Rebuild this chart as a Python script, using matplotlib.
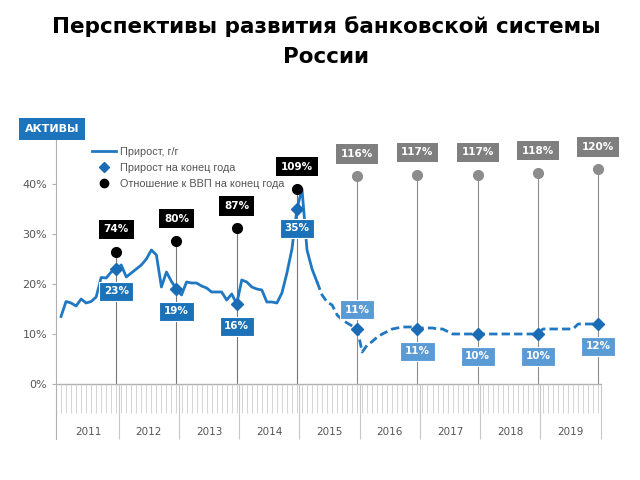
import matplotlib.pyplot as plt
from matplotlib.lines import Line2D

plt.rcParams['font.family'] = ['DejaVu Sans']

# Прирост активов, г/г (%), месяц 0 = январь 2011
fact_months = list(range(0, 52))
fact_values = [13.5, 16.5, 16.2, 15.6, 17.0, 16.2, 16.5, 17.4, 21.3, 21.2, 22.4, 23.0,
               23.8, 21.4, 22.2, 23.0, 23.8, 25.0, 26.8, 25.8, 19.4, 22.4, 20.5, 19.0,
               17.8, 20.4, 20.2, 20.2, 19.6, 19.2, 18.4, 18.4, 18.4, 16.8, 18.0, 16.0,
               20.8, 20.4, 19.4, 19.0, 18.8, 16.4, 16.4, 16.2, 18.2, 22.2, 27.0, 35.0,
               39.0, 26.8, 23.0, 20.4]

# прогноз (пунктир)
fc_months = list(range(51, 108))
fc_values = [20.4, 17.8, 16.4, 15.8, 13.8, 12.8, 12.2, 11.6, 11.0,
             6.4, 7.8, 8.5, 9.4, 10.0, 10.5, 11.0, 11.2, 11.4, 11.4, 11.4, 11.0,
             11.2, 11.2, 11.2, 11.0, 11.0, 10.5,
             10.0, 10.0, 10.0, 10.0, 10.0, 10.0, 10.0, 10.0, 10.0, 10.0, 10.0, 10.0,
             10.0, 10.0, 10.0, 10.0, 10.0, 10.0,
             11.0, 11.0, 11.0, 11.0, 11.0, 11.0, 11.0,
             12.0, 12.0, 12.0, 12.0, 12.0]

years = ['2011', '2012', '2013', '2014', '2015', '2016', '2017', '2018', '2019']
year_end = [11, 23, 35, 47, 59, 71, 83, 95, 107]
growth_ye = [23, 19, 16, 35, 11, 11, 10, 10, 12]
gdp_ratio = [74, 80, 87, 109, 116, 117, 117, 118, 120]

blue = '#1f78c1'
dark_box = '#1b72b8'
light_box = '#5b9bd5'
grey = '#8c8c8c'

fig = plt.figure(figsize=(6.4, 4.8), dpi=100)
ax = fig.add_axes([0.0875, 0.075, 0.8597, 0.6667])
ax.set_xlim(-1, 108.6)
ax.set_ylim(-12, 52)

# вторая шкала для отношения к ВВП
ax2 = ax.twinx()
ax2.set_ylim(-12 / 0.358, 52 / 0.358)
ax2.axis('off')

# оси
for s in ['top', 'right', 'bottom']:
    ax.spines[s].set_visible(False)
ax.spines['left'].set_bounds(-11, 49)
ax.spines['left'].set_color('#b0b0b0')
ax.set_yticks([0, 10, 20, 30, 40])
ax.set_yticklabels(['0%', '10%', '20%', '30%', '40%'], fontsize=8, color='#555555')
ax.tick_params(axis='y', length=3, color='#b0b0b0')
ax.set_xticks([])

ax.plot([-1, 107.5], [0, 0], color='#b0b0b0', lw=1)
ax.vlines(range(0, 108), -5.8, 0, color='#cccccc', lw=0.6)
ax.vlines([m + 0.5 for m in year_end], -11, 0, color='#c8c8c8', lw=0.8)
for i, y in enumerate(years):
    ax.text(year_end[i] - 5.5, -9.6, y, ha='center', va='center', fontsize=7.5, color='#555555')

# вертикальные линии на конец года
for i, m in enumerate(year_end):
    ax.plot([m, m], [0, gdp_ratio[i] * 0.358], color=grey if i > 3 else '#777777', lw=0.8, zorder=1)

# линии
ax.plot(fact_months, fact_values, color=blue, lw=2, zorder=3)
ax.plot(fc_months, fc_values, color=blue, lw=2, ls=(0, (3, 1.5)), zorder=3)
ax.plot(year_end, growth_ye, ls='none', marker='D', ms=6, color='#1a6db5', zorder=4)

# отношение к ВВП
ax2.plot(year_end[:4], gdp_ratio[:4], ls='none', marker='o', ms=7, color='black', zorder=4)
ax2.plot(year_end[4:], gdp_ratio[4:], ls='none', marker='o', ms=7, color=grey, zorder=4)
for i, m in enumerate(year_end):
    fc = 'black' if i < 4 else '#7f7f7f'
    ax2.annotate(f'{gdp_ratio[i]}%', (m, gdp_ratio[i]), xytext=(0, 16),
                 textcoords='offset points', ha='center', va='center',
                 fontsize=7.5, fontweight='bold', color='white',
                 bbox=dict(boxstyle='square,pad=0.45', fc=fc, ec='none'))

# подписи прироста
for i, m in enumerate(year_end):
    fc = dark_box if i < 4 else light_box
    dy = 14 if i == 4 else -16
    if i == 3:
        dy = -14
    ax.annotate(f'{growth_ye[i]}%', (m, growth_ye[i]), xytext=(0, dy),
                textcoords='offset points', ha='center', va='center',
                fontsize=7.5, fontweight='bold', color='white', zorder=5,
                bbox=dict(boxstyle='square,pad=0.45', fc=fc, ec='white', lw=0.8))

# легенда
handles = [Line2D([], [], color=blue, lw=2),
           Line2D([], [], ls='none', marker='D', ms=5, color='#1a6db5'),
           Line2D([], [], ls='none', marker='o', ms=6, color='black')]
labels = ['Прирост, г/г', 'Прирост на конец года', 'Отношение к ВВП на конец года']
leg = fig.legend(handles, labels, loc='upper left', bbox_to_anchor=(82 / 640, 1 - 137 / 480),
                 frameon=False, prop={'family': 'Liberation Sans', 'size': 7.8},
                 handlelength=2.2, labelspacing=0.55, handletextpad=0.4)
for t in leg.get_texts():
    t.set_color('#555555')

fig.text(52 / 640, 1 - 129 / 480, 'АКТИВЫ', ha='center', va='center', fontsize=8,
         fontweight='bold', color='white',
         bbox=dict(boxstyle='square,pad=0.5', fc='#1c75bc', ec='none'))

fig.text(0.51, 1 - 27 / 480, 'Перспективы развития банковской системы', ha='center',
         va='center', fontsize=15.5, fontweight='bold')
fig.text(0.51, 1 - 57 / 480, 'России', ha='center', va='center', fontsize=15.5, fontweight='bold')

fig.savefig('out.png', dpi=100)
